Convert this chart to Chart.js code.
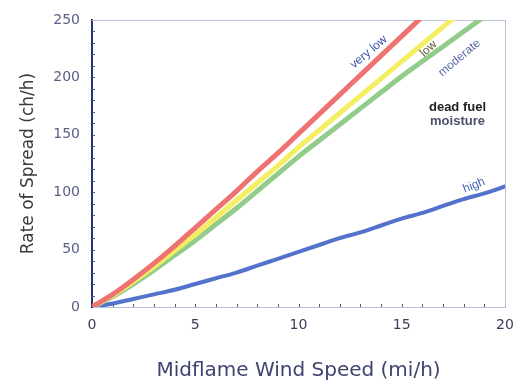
<!DOCTYPE html>
<html>
<head>
<meta charset="utf-8">
<script src="https://cdn.jsdelivr.net/npm/chart.js@4/dist/chart.umd.min.js"></script>
<style>
  html, body { margin: 0; padding: 0; background: #ffffff; }
  #wrap { width: 515px; height: 385px; position: relative; }
</style>
</head>
<body>
<div id="wrap"><canvas id="c" width="515" height="385"></canvas></div>
<script>
// Midflame wind speed (mi/h)
const windSpeed = [0, 1, 2, 3, 4, 5, 6, 7, 8, 9, 10, 11, 12, 13, 14, 15, 16, 17, 18, 19, 20];

// Rate of spread (ch/h) for each dead fuel moisture class
const veryLow  = [0, 11, 24, 38, 53, 69, 85, 101, 118, 134, 151, 168, 185, 202, 219, 236, 253];
const low      = [0, 10, 22, 35, 49, 63, 78, 93, 108, 123, 139, 154, 169, 184, 199, 214, 229, 244, 259];
const moderate = [0, 9, 20, 32, 45, 58, 72, 86, 101, 116, 131, 145, 159, 173, 187, 201, 214, 227, 240, 253];
const high     = [0, 3, 7, 11, 15, 20, 25, 30, 36, 42, 48, 54, 60, 65, 71, 77, 82, 88, 94, 99, 105];

const xTicks = [0, 5, 10, 15, 20];
const yTicks = [0, 50, 100, 150, 200, 250];

function pts(vals) {
  return vals.map((v, i) => ({ x: windSpeed[i], y: v }));
}

const SANS = '"DejaVu Sans", "Liberation Sans", Arial, sans-serif';

// Minor ticks, curve labels and the legend note, drawn in data space
const annotations = {
  id: 'annotations',
  afterDatasetsDraw(chart) {
    const { ctx, scales: { x, y }, chartArea } = chart;
    ctx.save();
    ctx.strokeStyle = '#4a5a8a';
    ctx.lineWidth = 1;
    for (let v = 1; v < 20; v++) {
      const px = Math.round(x.getPixelForValue(v)) + 0.5;
      ctx.beginPath();
      ctx.moveTo(px, chartArea.bottom);
      ctx.lineTo(px, chartArea.bottom - 3);
      ctx.stroke();
    }
    for (let v = 10; v < 250; v += 10) {
      const py = Math.round(y.getPixelForValue(v)) + 0.5;
      ctx.beginPath();
      ctx.moveTo(chartArea.left, py);
      ctx.lineTo(chartArea.left + 3, py);
      ctx.stroke();
    }

    const label = (text, xv, yv, deg, color, font) => {
      ctx.save();
      ctx.translate(x.getPixelForValue(xv), y.getPixelForValue(yv));
      ctx.rotate(deg * Math.PI / 180);
      ctx.fillStyle = color;
      ctx.font = font;
      ctx.textAlign = 'center';
      ctx.textBaseline = 'middle';
      ctx.fillText(text, 0, 0);
      ctx.restore();
    };
    const f = '12px "Liberation Sans", Arial, sans-serif';
    label('very low', 13.4, 222, -40, '#3a4fa8', f);
    label('low', 16.3, 225, -42, '#5a5a3a', f);
    label('moderate', 17.8, 217, -40, '#5a6aa8', f);
    label('high', 18.5, 106, -22, '#4a62b8', f);
    const fb = 'bold 13px "Liberation Sans", Arial, sans-serif';
    label('dead fuel', 17.7, 174, 0, '#222222', fb);
    label('moisture', 17.7, 162, 0, '#4a5070', fb);
    ctx.restore();
  }
};

new Chart(document.getElementById('c'), {
  type: 'line',
  data: {
    datasets: [
      { label: 'very low', data: pts(veryLow), borderColor: '#ee7272', borderWidth: 5 },
      { label: 'low', data: pts(low), borderColor: '#f4ee62', borderWidth: 5 },
      { label: 'moderate', data: pts(moderate), borderColor: '#92cc8a', borderWidth: 5 },
      { label: 'high', data: pts(high), borderColor: '#5272cc', borderWidth: 4 }
    ]
  },
  options: {
    responsive: false,
    animation: false,
    devicePixelRatio: 1,
    layout: { padding: { top: 20, right: 10, left: 0, bottom: 0 } },
    elements: {
      point: { radius: 0 },
      line: { cubicInterpolationMode: 'monotone', fill: false, borderCapStyle: 'round' }
    },
    plugins: {
      legend: { display: false },
      tooltip: { enabled: false }
    },
    scales: {
      x: {
        type: 'linear',
        min: 0, max: 20,
        afterBuildTicks(s) { s.ticks = xTicks.map(v => ({ value: v })); },
        afterFit(s) { s.height = 78; s.paddingLeft = 0; s.paddingRight = 0; },
        grid: { display: false, drawTicks: false },
        border: { display: true, color: '#b8c0d8', width: 1 },
        ticks: {
          padding: 10,
          color: '#3a3e58',
          font: { family: SANS, size: 14 }
        },
        title: {
          display: true,
          text: 'Midflame Wind Speed (mi/h)',
          color: '#3e4470',
          padding: { top: 0, bottom: 2 },
          font: { family: SANS, size: 20 }
        }
      },
      y: {
        type: 'linear',
        min: 0, max: 250,
        afterBuildTicks(s) { s.ticks = yTicks.map(v => ({ value: v })); },
        afterFit(s) { s.width = 92; s.paddingTop = 0; s.paddingBottom = 0; },
        grid: { display: false, drawTicks: false },
        border: { display: true, color: '#2a3570', width: 2 },
        ticks: {
          padding: 12,
          color: '#5a6088',
          font: { family: SANS, size: 14 }
        },
        title: {
          display: true,
          text: 'Rate of Spread (ch/h)',
          color: '#3a3a3a',
          padding: { top: 18, bottom: 0 },
          font: { family: SANS, size: 17 }
        }
      },
      x2: {
        type: 'linear', position: 'top', min: 0, max: 20,
        afterFit(s) { s.height = 0; s.paddingLeft = 0; s.paddingRight = 0; },
        grid: { display: false, drawTicks: false },
        border: { display: true, color: '#c0c6dc', width: 1 },
        ticks: { display: false }
      },
      y2: {
        type: 'linear', position: 'right', min: 0, max: 250,
        afterFit(s) { s.width = 0; s.paddingTop = 0; s.paddingBottom = 0; },
        grid: { display: false, drawTicks: false },
        border: { display: true, color: '#b8c0dc', width: 1 },
        ticks: { display: false }
      }
    }
  },
  plugins: [annotations]
});
</script>
</body>
</html>
